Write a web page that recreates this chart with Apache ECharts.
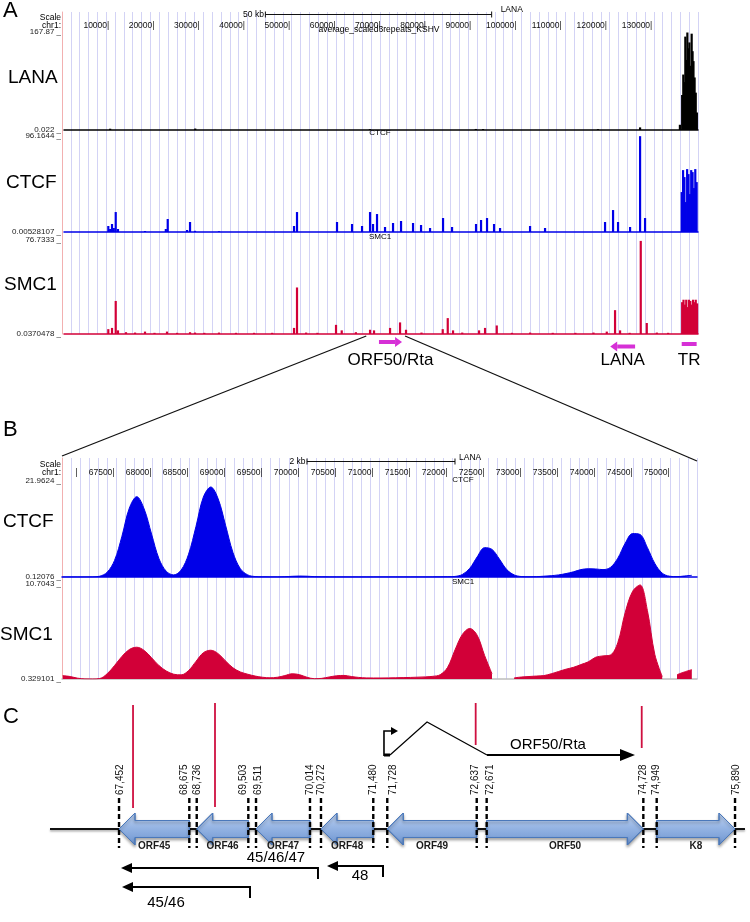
<!DOCTYPE html>
<html>
<head>
<meta charset="utf-8">
<script src="https://cdn.jsdelivr.net/npm/echarts@6/dist/echarts.min.js"></script>
<style>html,body{margin:0;padding:0;background:#fff;}#chart{width:750px;height:922px;}</style>
</head>
<body>
<div id="chart"></div>
<script>
// ================= Panel A : whole KSHV genome (bp) =================
const genomeMax = 140100;
const genomeTicks = [10000,20000,30000,40000,50000,60000,70000,80000,90000,100000,110000,120000,130000];
const lanaRange = [0.022, 167.87];
const ctcfARange = [0.00528107, 96.1644];
const smc1ARange = [0.0370478, 76.7333];
const lanaA = [[10200,2.2],[29000,2.5],[67600,1.4],[91000,1.8],[92600,1.6],[118000,1.4],[127300,4.5],[136100,9],
  [136600,60],[136850,95],[137100,82],[137300,160],[137500,120],[137750,167],[138000,140],[138200,150],[138450,110],
  [138700,165],[138900,135],[139100,118],[139350,90],[139600,64],[139850,30]];
const ctcfA = [[9790,6],[10200,3],[10610,8],[11000,4],[11430,20],[11930,3],[17900,1],[22500,3],[22920,13],[27200,2],
  [27850,10],[28950,1.2],[34250,0.8],[50830,6],[51490,20],[60330,10],[63650,8],[65860,6],[67630,20],[68290,8],
  [69170,18],[70940,5],[72710,9],[74480,11],[77130,9],[78900,7],[80890,4],[83760,14],[85750,5],[91050,8],
  [92160,12],[93480,14],[95030,8],[96360,4],[102990,6],[106300,4],[119560,10],[121330,22],[122430,10],[125090,5],
  [127300,96],[128400,14],[136500,40],[136800,62],[137100,55],[137400,30],[137700,63],[138000,58],[138300,38],
  [138600,62],[138900,60],[139200,44],[139500,63],[139800,50]];
const smc1A = [[9790,4],[10610,5],[11430,27],[11930,3],[13700,1.5],[15700,1.2],[17900,2],[20000,1],[22760,2],[25000,1],
  [27850,1.5],[28950,1.2],[31000,1],[34250,1.2],[38000,1],[42000,1],[46000,1],[50830,5],[51490,38],[53500,1.2],
  [56000,1],[60110,7.5],[61370,3],[64500,1.5],[67630,3.5],[68510,3],[72050,5],[74260,9.5],[75580,3.5],[79000,1.2],
  [83690,4],[84800,13],[85970,3],[88000,1.2],[91720,3],[93040,5],[95630,7],[99000,1],[103000,1.2],[108000,1],
  [113000,1],[117000,1.2],[119940,2],[121770,19.5],[122880,3],[125000,1],[127450,76],[128780,9],[131000,1.2],[133500,1],
  [136600,26],[136900,28],[137200,24],[137500,28],[137800,22],[138100,28],[138400,27],[138700,24],[139000,28],
  [139300,26],[139600,28],[139900,25]];
const regionNames = ['ORF50/Rta','LANA','TR'];
const regionFrom = [69600,126200,136500];
const regionTo = [74700,120700,139800];
const scaleBarA = [44500, 94500];   // 50 kb

// ================= Panel B : zoom on ORF45–K8 =================
const zoomFrom = 66790, zoomTo = 75370;
const zoomTicks = [67000,67500,68000,68500,69000,69500,70000,70500,71000,71500,72000,72500,73000,73500,74000,74500,75000];
const ctcfBRange = [0.12076, 21.9624];
const smc1BRange = [0.329101, 10.7043];
const zoomPos = [66800,66900,67000,67100,67200,67300,67400,67500,67600,67700,67800,67900,68000,68100,68200,68300,
  68400,68500,68600,68700,68800,68900,69000,69100,69200,69300,69400,69500,69600,69700,69800,69900,
  70000,70100,70200,70300,70400,70500,70600,70700,70800,70900,71000,71100,71200,71300,71400,71500,
  71600,71700,71800,71900,72000,72100,72200,72300,72400,72500,72600,72700,72800,72900,
  73000,73100,73200,73300,73400,73500,73600,73700,73800,73900,74000,74100,74200,74300,74400,74500,
  74600,74700,74800,74900,75000,75100,75200,75300];
const ctcfB = [0.12,0.12,0.12,0.12,0.14,0.3,1.2,3.9,9.4,15.8,18.4,15.6,9.9,4.3,1.4,0.6,
  1.7,5.3,11.6,18.3,20.6,17.9,11.9,5.7,2.0,0.6,0.22,0.15,0.14,0.14,0.18,0.28,
  0.34,0.3,0.2,0.15,0.14,0.13,0.13,0.13,0.13,0.13,0.13,0.13,0.13,0.13,0.13,0.13,
  0.13,0.13,0.14,0.15,0.18,0.25,0.7,2.1,4.7,6.8,6.4,4.2,1.8,0.6,
  0.22,0.16,0.2,0.3,0.42,0.6,0.9,1.3,1.8,2.0,1.95,1.8,2.3,4.4,7.8,10.0,
  9.8,6.8,3.2,1.0,0.3,0.2,0.35,0.5];
const smc1B = [0.7,0.6,0.42,0.34,0.33,0.38,0.9,1.8,2.8,3.55,3.8,3.45,2.65,1.8,1.2,0.85,
  0.78,1.25,2.25,3.2,3.47,3.1,2.3,1.55,1.1,0.85,0.65,0.52,0.46,0.52,0.7,0.9,
  0.8,0.52,0.36,0.4,0.55,0.68,0.72,0.6,0.5,0.45,0.44,0.44,0.45,0.46,0.48,0.5,
  0.53,0.56,0.62,0.8,1.6,3.5,5.2,5.85,5.1,2.9,0.9,null,null,0.45,
  0.55,0.6,0.65,0.7,0.9,1.15,1.4,1.6,1.9,2.2,2.7,2.85,2.95,4.3,7.6,9.9,
  10.6,7.8,3.0,0.6,null,0.8,1.1,1.35];
const scaleBarB = [70100, 72100];   // 2 kb

// ================= Panel C : gene map (schematic, not to scale) =================
const geneNames = ['ORF45','ORF46','ORF47','ORF48','ORF49','ORF50','K8'];
const geneStrand = [-1,-1,-1,-1,-1,1,1];
const boundaryLabels = ['67,452','68,675','68,736','69,503','69,511','70,014','70,272','71,480','71,728','72,637','72,671','74,728','74,949','75,890'];
const boundarySlots = [11.29,21.33,22.39,29.76,30.86,38.57,40.14,47.61,49.61,62.39,63.81,86.19,88.10,99.29];
const peakSlots = [13.29,25.0,62.24,85.96];
const transcriptNames = ['45/46/47','48','45/46'];
const transcriptTss = [39.71,49.0,30.0];
const transcriptTip = [11.57,41.0,11.71];
const rtaName = 'ORF50/Rta';
const rtaSlots = {tss:49.14, donor:50.0, apex:55.29, acceptor:63.86, end:85.0};
const backboneSlots = [1.43, 100.71];

// ---------------- layout / style (not data) ----------------
const FONT = "'Liberation Sans', Arial, Helvetica, sans-serif";
const BLUE = '#0000e8', RED = '#d20038', MAG = '#d630d6', LAV = '#d3d3f5', PINK = '#f2b0b0';
const regionRowDy = [8, 12.5, 10];
const peakLineSpan = [[-124,-21],[-126,-22],[-126,-84],[-123,-81]];
const boundaryLabelDx = [1.7,-5,0.8,-5,2,0,0.7,0,6,-1.7,3.3,0,0,1.7];
const transcriptRowDy = [39, 37, 58];
const transcriptLabelSlot = [33.71, 45.71, 18.0];
const transcriptLabelDy = [-10, 10, 16];

function txt(text, x, y, size, o) {
  o = o || {};
  return {type:'text', x:x, y:y, rotation:o.rot||0, silent:true, z:o.z||10,
    style:{text:text, font:(o.weight||'normal')+' '+size+'px '+FONT, fill:o.color||'#000',
      align:o.align||'left', textAlign:o.align||'left', verticalAlign:'middle', textVerticalAlign:'middle'}};
}
function baseX(g, min, max, color) {
  return {gridIndex:g, type:'value', min:min, max:max, position:'bottom',
    axisLine:{show:!!color, onZero:false, lineStyle:{color:color||'#000', width:1.5}},
    axisTick:{show:false}, axisLabel:{show:false}, splitLine:{show:false}};
}
function guideX(g, max, interval) {
  return {gridIndex:g, type:'value', min:0, max:max, interval:interval,
    axisLine:{show:false}, axisTick:{show:false}, axisLabel:{show:false},
    splitLine:{show:true, lineStyle:{color:LAV, width:1}}};
}
function labelX(g, min, max, ticks, fmt, margin) {
  return {gridIndex:g, type:'value', min:min, max:max, position:'top',
    axisLine:{show:false}, axisTick:{show:false}, splitLine:{show:false},
    axisLabel:{show:true, customValues:ticks, formatter:fmt, align:'right', margin:margin,
      fontSize:8.5, fontFamily:FONT, color:'#111'}};
}
function trackY(g, r, margin) {
  return {gridIndex:g, type:'value', min:r[0], max:r[1],
    axisLine:{show:false}, axisTick:{show:false}, splitLine:{show:false},
    axisLabel:{show:true, customValues:[r[0], r[1]], formatter:v => v + ' _', margin:margin,
      fontSize:8, fontFamily:FONT, color:'#222'}};
}
function bgY(g) {
  return {gridIndex:g, type:'value', min:0, max:1, axisLine:{show:true, lineStyle:{color:PINK, width:1}},
    axisTick:{show:false}, axisLabel:{show:false}, splitLine:{show:false}};
}

const chart = echarts.init(document.getElementById('chart'), null, {renderer:'canvas', width:750, height:922});

const geneFill = new echarts.graphic.LinearGradient(0,0,0,1,[
  {offset:0,color:'#c2d5f2'},{offset:0.45,color:'#96b5e4'},{offset:1,color:'#6e95d0'}]);

const option = {
  animation:false,
  backgroundColor:'#fff',
  grid:[
    {left:62, top:12, width:636, height:322},
    {left:64, top:32, width:634, height:98},
    {left:64, top:136, width:634, height:96},
    {left:64, top:240, width:634, height:94},
    {left:62, top:458, width:635, height:221},
    {left:62, top:481, width:635, height:96},
    {left:62, top:584, width:635, height:95},
    {left:40, top:739, width:700, height:180}
  ],
  xAxis:[
    guideX(0, 144000, 2000),
    baseX(1, 0, genomeMax, '#000'),
    labelX(1, 0, genomeMax, genomeTicks, v => v + '|', 2),
    baseX(2, 0, genomeMax, BLUE),
    baseX(3, 0, genomeMax, RED),
    guideX(4, 8400, 120),
    baseX(5, zoomFrom, zoomTo, BLUE),
    labelX(5, zoomFrom, zoomTo, zoomTicks, v => (v === 67000 ? '|' : v + '|'), 3.5),
    baseX(6, zoomFrom, zoomTo, '#bdbdbd'),
    {gridIndex:7, type:'value', min:0, max:100, show:false}
  ],
  yAxis:[
    bgY(0),
    trackY(1, lanaRange, 3),
    trackY(2, ctcfARange, 3),
    trackY(3, smc1ARange, 3),
    bgY(4),
    trackY(5, ctcfBRange, 1),
    trackY(6, smc1BRange, 1),
    {gridIndex:7, type:'value', min:-1, max:1, show:false}
  ],
  series:[
    {type:'bar', xAxisIndex:1, yAxisIndex:1, data:lanaA, barWidth:2.2, itemStyle:{color:'#000'}, silent:true},
    {type:'bar', xAxisIndex:3, yAxisIndex:2, data:ctcfA, barWidth:2.2, itemStyle:{color:BLUE}, silent:true},
    {type:'bar', xAxisIndex:4, yAxisIndex:3, data:smc1A, barWidth:2.2, itemStyle:{color:RED}, silent:true},
    {type:'custom', xAxisIndex:4, yAxisIndex:3, clip:false, silent:true, z:5,
      data: regionNames.map((n,i) => [regionFrom[i], regionTo[i], i]),
      renderItem(params, api) {
        const i = api.value(2);
        const a = api.coord([api.value(0), smc1ARange[0]]);
        const b = api.coord([api.value(1), smc1ARange[0]]);
        const y = a[1] + regionRowDy[i];
        const x1 = a[0], x2 = b[0];
        const kids = [];
        if (regionNames[i] === 'TR') {
          kids.push({type:'rect', shape:{x:Math.min(x1,x2), y:y-2, width:Math.abs(x2-x1), height:4}, style:{fill:MAG}});
        } else {
          const d = x2 > x1 ? 1 : -1;
          const hx = x2 - d*7;
          kids.push({type:'rect', shape:{x:Math.min(x1,hx), y:y-2, width:Math.abs(hx-x1), height:4}, style:{fill:MAG}});
          kids.push({type:'polygon', shape:{points:[[x2,y],[hx,y-5],[hx,y+5]]}, style:{fill:MAG}});
        }
        kids.push(txt(regionNames[i], (x1+x2)/2, a[1]+26, 17, {align:'center'}));
        return {type:'group', children:kids};
      }},
    {type:'line', xAxisIndex:6, yAxisIndex:5, data: zoomPos.map((p,i) => [p, ctcfB[i]]), showSymbol:false, smooth:0.35,
      lineStyle:{color:BLUE, width:1}, areaStyle:{color:BLUE, opacity:1, origin:'start'}, silent:true},
    {type:'line', xAxisIndex:8, yAxisIndex:6, data: zoomPos.map((p,i) => [p, smc1B[i]]), showSymbol:false, smooth:0.35,
      connectNulls:false, lineStyle:{color:RED, width:1}, areaStyle:{color:RED, opacity:1, origin:'start'}, silent:true},
    // ---- Panel C ----
    {type:'custom', xAxisIndex:9, yAxisIndex:7, clip:false, silent:true, z:2,
      data:[[backboneSlots[0], backboneSlots[1]]],
      renderItem(params, api) {
        const a = api.coord([api.value(0), 0]), b = api.coord([api.value(1), 0]);
        return {type:'line', shape:{x1:a[0], y1:a[1], x2:b[0], y2:b[1]},
          style:{stroke:'#111', lineWidth:2.2, shadowBlur:2, shadowColor:'rgba(0,0,0,0.35)', shadowOffsetY:1.5}};
      }},
    {type:'custom', xAxisIndex:9, yAxisIndex:7, clip:false, silent:true, z:3,
      data: geneNames.map((n,i) => [boundarySlots[2*i], boundarySlots[2*i+1], geneStrand[i], i]),
      renderItem(params, api) {
        const s = api.coord([api.value(0), 0]), e = api.coord([api.value(1), 0]);
        const dir = api.value(2), y = s[1], H = 16, B = 8.5, L = 16;
        const x0 = s[0], x1 = e[0];
        const pts = dir < 0
          ? [[x0,y],[x0+L,y-H],[x0+L,y-B],[x1,y-B],[x1,y+B],[x0+L,y+B],[x0+L,y+H]]
          : [[x1,y],[x1-L,y-H],[x1-L,y-B],[x0,y-B],[x0,y+B],[x1-L,y+B],[x1-L,y+H]];
        return {type:'group', children:[
          {type:'polygon', shape:{points:pts}, style:{fill:geneFill, stroke:'#4a78bb', lineWidth:1,
            shadowBlur:3, shadowColor:'rgba(0,0,0,0.35)', shadowOffsetY:2}},
          txt(geneNames[api.value(3)], (x0+x1)/2, y+17, 10, {align:'center', weight:'bold', color:'#1a1a1a'})
        ]};
      }},
    {type:'custom', xAxisIndex:9, yAxisIndex:7, clip:false, silent:true, z:4,
      data: boundarySlots.map((u,i) => [u, i]),
      renderItem(params, api) {
        const p = api.coord([api.value(0), 0]);
        const i = api.value(1);
        return {type:'group', children:[
          {type:'line', shape:{x1:p[0], y1:p[1]-31, x2:p[0], y2:p[1]+19}, style:{stroke:'#000', lineWidth:2.4, lineDash:[5,3]}},
          txt(boundaryLabels[i], p[0]+boundaryLabelDx[i], p[1]-34, 10, {rot:Math.PI/2, align:'left', color:'#111'})
        ]};
      }},
    {type:'custom', xAxisIndex:9, yAxisIndex:7, clip:false, silent:true, z:4,
      data: peakSlots.map((u,i) => [u, i]),
      renderItem(params, api) {
        const p = api.coord([api.value(0), 0]);
        const sp = peakLineSpan[api.value(1)];
        return {type:'line', shape:{x1:p[0], y1:p[1]+sp[0], x2:p[0], y2:p[1]+sp[1]}, style:{stroke:'#cf1040', lineWidth:1.8}};
      }},
    {type:'custom', xAxisIndex:9, yAxisIndex:7, clip:false, silent:true, z:4,
      data: transcriptNames.map((n,i) => [transcriptTss[i], transcriptTip[i], i]),
      renderItem(params, api) {
        const i = api.value(2);
        const p1 = api.coord([api.value(0), 0]), p2 = api.coord([api.value(1), 0]);
        const y = p1[1] + transcriptRowDy[i], x1 = p1[0], x2 = p2[0];
        const lab = api.coord([transcriptLabelSlot[i], 0]);
        return {type:'group', children:[
          {type:'line', shape:{x1:x1, y1:y, x2:x2+8, y2:y}, style:{stroke:'#000', lineWidth:2}},
          {type:'polygon', shape:{points:[[x2,y],[x2+11,y-5],[x2+11,y+5]]}, style:{fill:'#000'}},
          {type:'line', shape:{x1:x1, y1:y-1, x2:x1, y2:y+11}, style:{stroke:'#000', lineWidth:2}},
          txt(transcriptNames[i], lab[0], y + transcriptLabelDy[i], 15, {align:'center'})
        ]};
      }},
    {type:'custom', xAxisIndex:9, yAxisIndex:7, clip:false, silent:true, z:4,
      data:[[rtaSlots.tss, rtaSlots.donor, rtaSlots.apex, rtaSlots.acceptor, rtaSlots.end]],
      renderItem(params, api) {
        const X = k => api.coord([api.value(k), 0])[0];
        const yb = api.coord([0, 0])[1];
        const yT = yb - 98, yS = yb - 74, yA = yb - 107;
        const tss = X(0), don = X(1), apx = X(2), acc = X(3), end = X(4);
        return {type:'group', children:[
          {type:'polyline', shape:{points:[[tss, yS+1], [tss, yT], [tss+8, yT]]}, style:{stroke:'#000', lineWidth:1.6, fill:null}},
          {type:'polygon', shape:{points:[[tss+14, yT],[tss+7, yT-4],[tss+7, yT+4]]}, style:{fill:'#000'}},
          {type:'line', shape:{x1:tss, y1:yS, x2:don, y2:yS}, style:{stroke:'#000', lineWidth:3}},
          {type:'polyline', shape:{points:[[don, yS],[apx, yA],[acc, yS]]}, style:{stroke:'#000', lineWidth:1.2, fill:null}},
          {type:'line', shape:{x1:acc, y1:yS, x2:end-12, y2:yS}, style:{stroke:'#000', lineWidth:2}},
          {type:'polygon', shape:{points:[[end, yS],[end-15, yS-6],[end-15, yS+6]]}, style:{fill:'#000'}},
          txt(rtaName, (acc+end)/2 - 13, yb - 84, 15, {align:'center'})
        ]};
      }}
  ]
};
chart.setOption(option);

// ---- decorations tied to the axes (scale bars, zoom lines, titles) ----
const xa = v => chart.convertToPixel({xAxisIndex:1}, v);
const xb = v => chart.convertToPixel({xAxisIndex:6}, v);
const g = [];
g.push(txt('A', 3, 11, 22, {}));
g.push(txt('B', 3, 430, 22, {}));
g.push(txt('C', 3, 717, 22, {}));
g.push(txt('Scale', 61, 18, 8.5, {align:'right'}));
g.push(txt('chr1:', 61, 25.5, 8.5, {align:'right'}));
const a1 = xa(scaleBarA[0]), a2 = xa(scaleBarA[1]);
g.push({type:'line', shape:{x1:a1, y1:14.5, x2:a2, y2:14.5}, style:{stroke:'#111', lineWidth:1}, silent:true});
g.push({type:'line', shape:{x1:a1, y1:11.5, x2:a1, y2:17.5}, style:{stroke:'#111', lineWidth:1}, silent:true});
g.push({type:'line', shape:{x1:a2, y1:11.5, x2:a2, y2:17.5}, style:{stroke:'#111', lineWidth:1}, silent:true});
g.push(txt('50 kb', a1-1.5, 15, 8.5, {align:'right'}));
g.push(txt('LANA', a2+9, 10, 8.5, {}));
g.push(txt('average_scaled3repeats_KSHV', 379, 30, 8.5, {align:'center'}));
g.push(txt('CTCF', 380, 133, 8, {align:'center'}));
g.push(txt('SMC1', 380, 237, 8, {align:'center'}));
g.push(txt('LANA', 8, 78, 19, {}));
g.push(txt('CTCF', 6, 183, 19, {}));
g.push(txt('SMC1', 4, 285, 19, {}));
g.push({type:'line', shape:{x1:xa(zoomFrom), y1:336, x2:xb(zoomFrom), y2:456}, style:{stroke:'#111', lineWidth:1.3}, silent:true});
g.push({type:'line', shape:{x1:xa(zoomTo), y1:336, x2:xb(zoomTo), y2:461}, style:{stroke:'#111', lineWidth:1.3}, silent:true});
g.push(txt('Scale', 61, 465, 8.5, {align:'right'}));
g.push(txt('chr1:', 61, 473, 8.5, {align:'right'}));
const b1 = xb(scaleBarB[0]), b2 = xb(scaleBarB[1]);
g.push({type:'line', shape:{x1:b1, y1:461.5, x2:b2, y2:461.5}, style:{stroke:'#111', lineWidth:1}, silent:true});
g.push({type:'line', shape:{x1:b1, y1:458.5, x2:b1, y2:464.5}, style:{stroke:'#111', lineWidth:1}, silent:true});
g.push({type:'line', shape:{x1:b2, y1:458.5, x2:b2, y2:464.5}, style:{stroke:'#111', lineWidth:1}, silent:true});
g.push(txt('2 kb', b1-1.5, 462, 8.5, {align:'right'}));
g.push(txt('LANA', b2+4, 458, 8.5, {}));
g.push(txt('CTCF', 463, 480, 8, {align:'center'}));
g.push(txt('SMC1', 463, 582, 8, {align:'center'}));
g.push(txt('CTCF', 3, 522, 19, {}));
g.push(txt('SMC1', 0, 635, 19, {}));
chart.setOption({graphic:{elements:g}});
</script>
</body>
</html>
